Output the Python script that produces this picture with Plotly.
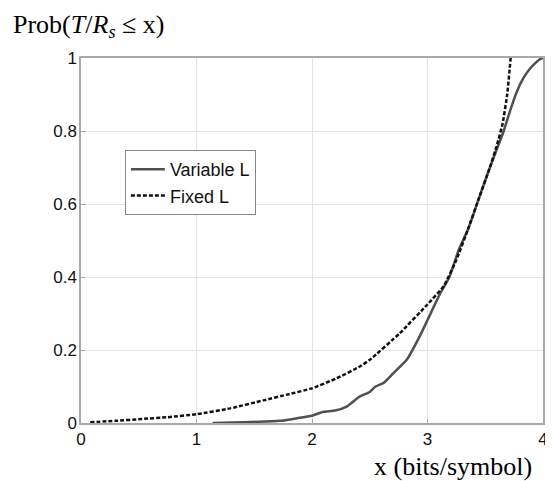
import plotly.graph_objects as go

# Fixed L (dashed)
fixed_x = [0.08, 0.3, 0.53, 0.75, 1.0, 1.29, 1.58, 1.8, 2.0, 2.21, 2.41, 2.5, 2.76, 3.0,
           3.14, 3.25, 3.35, 3.45, 3.54, 3.6, 3.65, 3.69, 3.72]
fixed_y = [0.002, 0.006, 0.011, 0.016, 0.024, 0.04, 0.062, 0.079, 0.095, 0.122, 0.154, 0.173,
           0.246, 0.325, 0.375, 0.447, 0.53, 0.62, 0.70, 0.76, 0.82, 0.90, 1.0]

# Variable L (solid)
var_x = [1.14, 1.4, 1.72, 1.87, 2.0, 2.1, 2.2, 2.3, 2.41, 2.5, 2.55, 2.62, 2.7, 2.82, 2.93,
         3.0, 3.11, 3.19, 3.27, 3.35, 3.45, 3.54, 3.6, 3.66, 3.72, 3.77, 3.83, 3.89, 3.94,
         3.97, 4.0]
var_y = [0.0, 0.002, 0.006, 0.013, 0.02, 0.031, 0.034, 0.045, 0.072, 0.085, 0.1, 0.11, 0.135,
         0.173, 0.236, 0.282, 0.355, 0.40, 0.474, 0.53, 0.62, 0.70, 0.75, 0.80, 0.86, 0.905,
         0.945, 0.972, 0.988, 0.996, 1.0]

x_ticks = [0, 1, 2, 3, 4]
x_tick_labels = ["0", "1", "2", "3", "4"]
y_ticks = [0, 0.2, 0.4, 0.6, 0.8, 1]
y_tick_labels = ["0", "0.2", "0.4", "0.6", "0.8", "1"]

fig = go.Figure()
fig.add_trace(go.Scatter(x=var_x, y=var_y, mode="lines", name="Variable L",
                         line=dict(color="#505050", width=2.5, shape="spline", smoothing=0.5)))
fig.add_trace(go.Scatter(x=fixed_x, y=fixed_y, mode="lines", name="Fixed L",
                         line=dict(color="#111111", width=2.5, dash="4px,2px",
                                   shape="spline", smoothing=0.4)))

axis_common = dict(showgrid=True, gridcolor="#e3e3e3", gridwidth=1,
                   showline=True, linecolor="#a8a8a8", linewidth=1.5, mirror=True,
                   ticks="inside", ticklen=4, tickcolor="#a8a8a8", zeroline=False,
                   automargin=False,
                   tickfont=dict(family="Liberation Sans, Arial", size=17, color="#111"))

fig.update_layout(
    width=545, height=473,
    margin=dict(l=73, r=10, t=50, b=58),
    paper_bgcolor="white", plot_bgcolor="white",
    xaxis=dict(range=[0, 4], tickvals=x_ticks, ticktext=x_tick_labels, **axis_common),
    yaxis=dict(range=[0, 1], tickvals=y_ticks, ticktext=y_tick_labels,
               ticklabelstandoff=-1, **axis_common),
    legend=dict(x=0.095, y=0.748, xanchor="left", yanchor="top",
                bordercolor="#888888", borderwidth=1, bgcolor="white",
                font=dict(family="Liberation Sans, Arial", size=18, color="#111"),
                itemwidth=34, tracegroupgap=0),
    showlegend=True,
    annotations=[
        dict(text="Prob(<i>T</i>/<i>R<sub>s</sub></i> ≤ x)", xref="paper", yref="paper",
             x=-0.151, y=1.088, xanchor="left", yanchor="middle", showarrow=False,
             font=dict(family="Liberation Serif, Times New Roman", size=26, color="black")),
        dict(text="x (bits/symbol)", xref="paper", yref="paper",
             x=0.98, y=-0.118, xanchor="right", yanchor="middle", showarrow=False,
             font=dict(family="Liberation Serif, Times New Roman", size=26, color="black")),
    ],
)

fig.write_html("out.html")
